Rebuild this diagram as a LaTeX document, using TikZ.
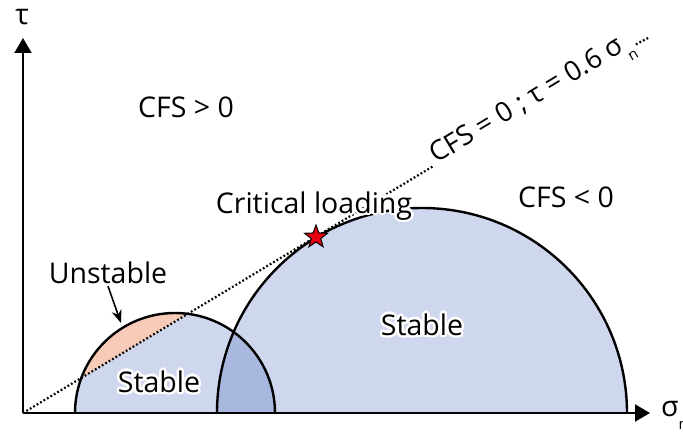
\documentclass[tikz,border=0pt]{standalone}
\usepackage{fontspec}
\setmainfont{Open Sans}
\usepackage{contour}
\contourlength{2.5pt}
\usetikzlibrary{arrows.meta,shapes.geometric,positioning}
\definecolor{stableblue}{RGB}{207,215,238}
\definecolor{overlapblue}{RGB}{168,184,223}
\definecolor{unstableorange}{RGB}{247,203,184}
\definecolor{starred}{RGB}{230,0,18}
\newcommand{\lowsub}[1]{\raisebox{-0.45em}{\fontsize{15}{15}\selectfont #1}}

\begin{document}
\begin{tikzpicture}[
        x=1pt, y=1pt,
        axis/.style={line width=2pt, -{Triangle[width=17pt,length=15pt]}},
        mohr/.style={line width=2.4pt},
        failure/.style={line width=2.2pt, dash pattern=on 1.8pt off 2.2pt},
        lbl/.style={font=\fontsize{28.5}{30}\selectfont, inner sep=2pt}
    ]
        \useasboundingbox (-23,-19) rectangle (660,413);
        \coordinate (O) at (0,0);
        
        % Circle fills
        \fill[stableblue] (52,0) arc (180:0:100) -- cycle;
        \fill[stableblue] (194,0) arc (180:0:205) -- cycle;
        \begin{scope}
            \clip (52,0) arc (180:0:100) -- cycle;
            \fill[overlapblue] (194,0) arc (180:0:205) -- cycle;
            \fill[unstableorange] (O) -- (300,180) -- (0,180) -- cycle;
        \end{scope}
        
        % Failure line
        \node[lbl, font=\fontsize{27.5}{29}\selectfont, rotate=31, anchor=base, inner sep=3pt] (eqn) at (512,308) {CFS = 0 ; τ = 0.6 σ\lowsub{n}};
        \coordinate (lineend) at (627,376);
        \draw[failure] (O) -- (eqn.base west);
        \draw[failure] (eqn.base east) -- (lineend);
        
        % Mohr circles
        \draw[mohr] (52,0) arc (180:0:100);
        \draw[mohr] (194,0) arc (180:0:205);
        
        % Axes
        \coordinate (ytip) at (0,375);
        \coordinate (xtip) at (627,0);
        \draw[axis] (O) -- (ytip);
        \draw[axis] (O) -- (xtip);
        \node[lbl] (tau) at (-1,396) {τ};
        \node[lbl, anchor=west] (sigma) at (636,-2) {σ\lowsub{n}};
        
        % Critical point
        \node[star, star points=5, star point ratio=2.4, minimum size=24pt, inner sep=0pt, fill=starred, draw=black, line width=1pt] (crit) at (293,176) {};
        \node[lbl] (critlbl) at (291,206) {\contour{white}{Critical loading}};
        
        % Regions
        \node[lbl] (pos) at (163,306) {CFS > 0};
        \node[lbl] (neg) at (543,216) {CFS < 0};
        \node[lbl] (unstable) at (85,140) {Unstable};
        \coordinate (unstabletip) at (98,90);
        \draw[line width=1.6pt, -{Stealth[length=13pt,width=10pt]}] (unstable.south) -- (unstabletip);
        \node[lbl] (stablesmall) at (136,30) {\contour{white}{Stable}};
        \node[lbl] (stablelarge) at (399,87) {\contour{white}{Stable}};
        
    \end{tikzpicture}
\end{document}
